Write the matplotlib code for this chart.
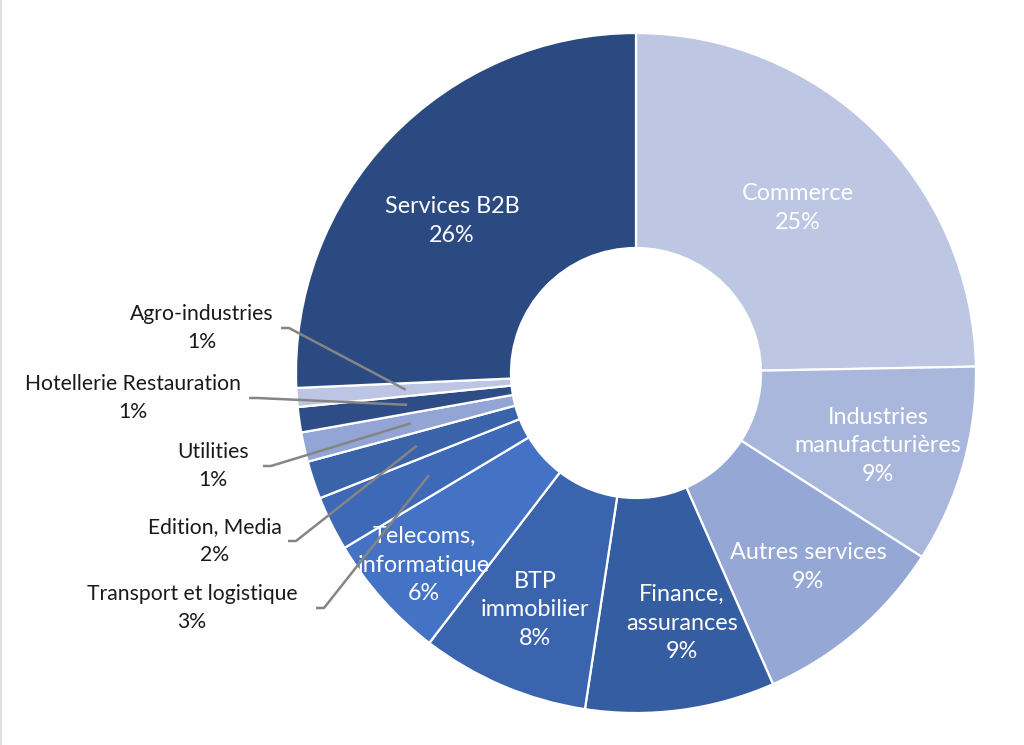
import numpy as np
import matplotlib.pyplot as plt

plt.rcParams['font.family'] = ['Lato', 'DejaVu Sans']

# donnees (sens horaire depuis midi)
secteurs = ['Commerce', 'Industries\nmanufacturières', 'Autres services',
            'Finance,\nassurances', 'BTP\nimmobilier', 'Telecoms,\ninformatique',
            'Transport et logistique', 'Edition, Media', 'Utilities',
            'Hotellerie Restauration', 'Agro-industries', 'Services B2B']
parts = [24.7, 9.4, 9.3, 9.0, 8.0, 6.0, 2.6, 1.8, 1.4, 1.2, 0.9, 25.7]
pct_labels = ['25%', '9%', '9%', '9%', '8%', '6%', '3%', '2%', '1%', '1%', '1%', '26%']
couleurs = ['#bdc7e4', '#aab7dc', '#95a7d5', '#355da1', '#3a65ae', '#4472c4',
            '#3e69b6', '#3a63aa', '#93a5d4', '#2e4c86', '#bcc6e4', '#2c4a82']

# position des etiquettes en pixels
pos_int = {0: (798, 208), 1: (878, 446), 2: (808, 567), 3: (682, 623),
           4: (535, 610), 5: (424, 565), 11: (452, 221)}
pos_ext = {10: (202, 328), 9: (133, 398), 8: (213, 466), 7: (215, 541), 6: (192, 608)}
ancre_ext = {10: 281, 9: 249, 8: 263, 7: 288, 6: 316}

H = 745
cx, cy, R = 636, H - 373, 340

fig = plt.figure(figsize=(10.24, 7.45), dpi=100)
ax = fig.add_axes([0, 0, 1, 1])

wedges, _ = ax.pie(parts, colors=couleurs, startangle=90, counterclock=False,
                   center=(cx, cy), radius=R,
                   wedgeprops=dict(width=R - 125, edgecolor='white', linewidth=1.6))
ax.set_xlim(0, 1024)
ax.set_ylim(0, H)
ax.set_aspect('equal')
ax.axis('off')

for i, w in enumerate(wedges):
    txt = secteurs[i] + '\n' + pct_labels[i]
    if i in pos_int:
        x, y = pos_int[i]
        ax.text(x, H - y, txt, ha='center', va='center', color='white',
                fontsize=16.8, linespacing=1.45)
    else:
        x, y = pos_ext[i]
        ax.text(x, H - y, txt, ha='center', va='center', color='#1a1a1a',
                fontsize=15.2, linespacing=1.45)
        ang = np.deg2rad((w.theta1 + w.theta2) / 2)
        px = cx + 231 * np.cos(ang)
        py = cy + 231 * np.sin(ang)
        x0 = ancre_ext[i]
        ly = H - y
        ax.plot([x0, x0 + 8, px], [ly, ly, py], color='#858585', lw=1.8,
                solid_capstyle='butt', zorder=5)

# filet gris a gauche
fig.add_artist(plt.Line2D([0.001, 0.001], [0, 1], color='#d9d9d9', lw=1.2))

plt.savefig('out.png', dpi=100, facecolor='white')
